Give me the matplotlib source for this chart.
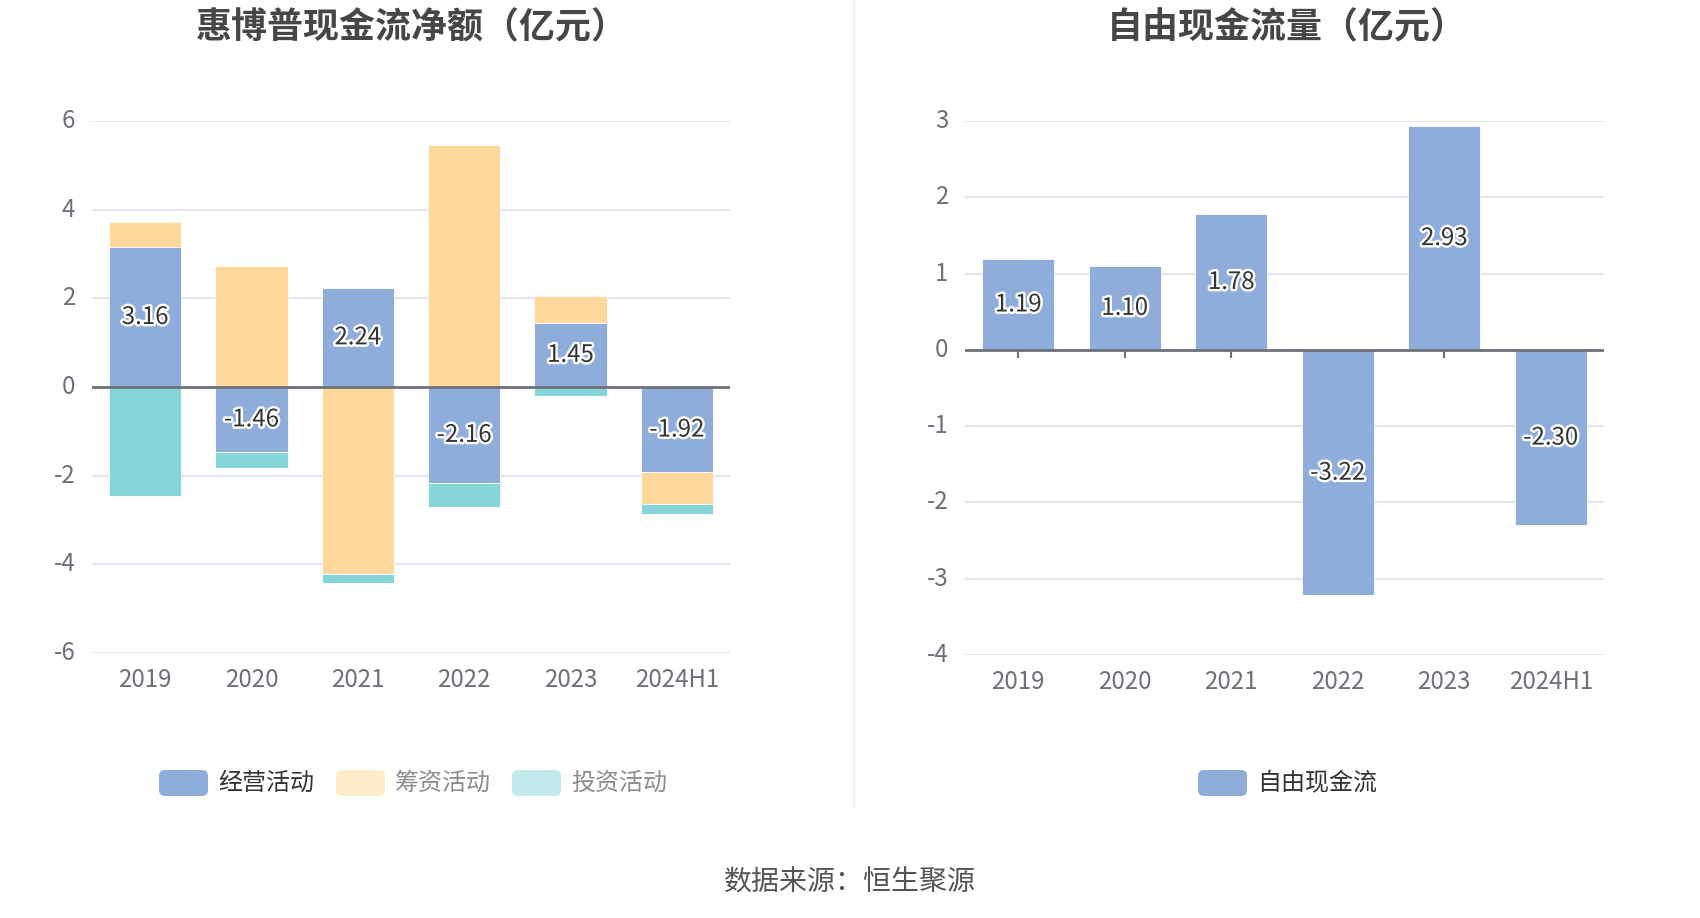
import matplotlib
matplotlib.use("Agg")
import matplotlib.pyplot as plt
import matplotlib.patheffects as pe
import matplotlib.patches as mpatches
from matplotlib.transforms import ScaledTranslation
import numpy as np

plt.rcParams['font.family'] = ['Noto Sans CJK SC', 'DejaVu Sans']

# ---------------- data ----------------
categories = ['2019', '2020', '2021', '2022', '2023', '2024H1']
operating = [3.16, -1.46, 2.24, -2.16, 1.45, -1.92]
financing = [0.57, 2.72, -4.22, 5.45, 0.60, -0.72]
investing = [-2.46, -0.37, -0.21, -0.54, -0.20, -0.22]
free_cf = [1.19, 1.10, 1.78, -3.22, 2.93, -2.30]

left_title = '惠博普现金流净额（亿元）'
right_title = '自由现金流量（亿元）'
series_names = ['经营活动', '筹资活动', '投资活动']
right_series_name = '自由现金流'
source_text = '数据来源：恒生聚源'
left_yticks = [-6, -4, -2, 0, 2, 4, 6]
right_yticks = [-4, -3, -2, -1, 0, 1, 2, 3]

# ---------------- style ----------------
C_OP = '#8eaddb'
C_FIN = '#fed89a'
C_INV = '#86d5d8'
LEG_COLORS = ['#8eaddb', '#ffecca', '#c2e9eb']
LEG_TEXT = ['#333333', '#8c8c8c', '#8c8c8c']
GRID = '#e0e6f1'
AXIS = '#6e7079'
FS = 17.3
W, H = 1700, 918
BAR_W = 0.68

fig = plt.figure(figsize=(W / 100, H / 100), dpi=100)
fig.patch.set_facecolor('white')

ax1 = fig.add_axes([92 / W, 1 - 653 / H, 638 / W, 532 / H])
ax2 = fig.add_axes([965 / W, 1 - 655 / H, 639 / W, 534 / H])

label_fx = [pe.withStroke(linewidth=3.5, foreground='white')]
up_shift = ScaledTranslation(0, 3 / 100, fig.dpi_scale_trans)


def style_axis(ax, yticks):
    x = np.arange(len(categories))
    ax.set_xlim(-0.5, len(categories) - 0.5)
    ax.set_ylim(min(yticks), max(yticks))
    ax.set_yticks(yticks)
    ax.set_yticklabels([str(t) for t in yticks])
    ax.set_xticks(x)
    ax.set_xticklabels(categories)
    for s in ax.spines.values():
        s.set_visible(False)
    ax.tick_params(axis='y', length=0, pad=12, labelsize=FS, labelcolor=AXIS)
    ax.tick_params(axis='x', length=0, pad=10, labelsize=FS, labelcolor=AXIS)
    for lab in ax.get_yticklabels():
        lab.set_transform(lab.get_transform() + up_shift)
    for t in yticks:
        if t != 0:
            ax.axhline(t, color=GRID, lw=1.5, zorder=0)
    # zero axis line and tick marks (ticks below bars)
    ax.plot(x, np.zeros(len(x)), linestyle='none', marker=3, markersize=6,
            markeredgewidth=1.5, color=AXIS, zorder=1)
    ax.axhline(0, color=AXIS, lw=2, zorder=4)
    return x


# ---------------- left chart ----------------
x = style_axis(ax1, left_yticks)
pos_base = np.zeros(len(categories))
neg_base = np.zeros(len(categories))
op_bottom = None
for vals, col in [(operating, C_OP), (financing, C_FIN), (investing, C_INV)]:
    v = np.array(vals)
    bottom = np.where(v >= 0, pos_base, neg_base)
    ax1.bar(x, v, bottom=bottom, width=BAR_W, color=col, zorder=2,
            edgecolor='white', linewidth=0.6)
    if op_bottom is None:
        op_bottom = bottom.copy()
    pos_base = pos_base + np.where(v >= 0, v, 0)
    neg_base = neg_base + np.where(v < 0, v, 0)

for xi, b, v in zip(x, op_bottom, operating):
    ax1.text(xi, b + v / 2, f'{v:.2f}', ha='center', va='center', fontsize=FS,
             color='#333333', zorder=6, path_effects=label_fx)

# ---------------- right chart ----------------
x2 = style_axis(ax2, right_yticks)
ax2.bar(x2, free_cf, width=BAR_W, color=C_OP, zorder=2,
        edgecolor='white', linewidth=0.6)
for xi, v in zip(x2, free_cf):
    ax2.text(xi, v / 2, f'{v:.2f}', ha='center', va='center', fontsize=FS,
             color='#333333', zorder=6, path_effects=label_fx)

# ---------------- overlay: titles, legends, separator, source ----------------
axo = fig.add_axes([0, 0, 1, 1], zorder=-1)
axo.set_xlim(0, W)
axo.set_ylim(H, 0)
axo.axis('off')

axo.plot([854, 854], [0, 808], color='#eeeeee', lw=1.2)

axo.text(412, 28, left_title, ha='center', va='center', fontsize=25.9,
         fontweight='bold', color='#464646')
axo.text(1287, 28, right_title, ha='center', va='center', fontsize=25.9,
         fontweight='bold', color='#464646')


def legend_item(x0, y_c, color, label, tcolor):
    box = mpatches.FancyBboxPatch((x0, y_c - 13), 49, 26,
                                  boxstyle='round,pad=0,rounding_size=6',
                                  facecolor=color, edgecolor='none')
    axo.add_patch(box)
    axo.text(x0 + 59, y_c, label, ha='left', va='center', fontsize=FS,
             color=tcolor)


leg_x = [159, 336, 512]
for lx, col, name, tc in zip(leg_x, LEG_COLORS, series_names, LEG_TEXT):
    legend_item(lx, 783, col, name, tc)
legend_item(1198, 783, LEG_COLORS[0], right_series_name, '#333333')

axo.text(850, 883, source_text, ha='center', va='center', fontsize=20.2,
         color='#555555')

fig.savefig('out.png', dpi=100, facecolor='white')
